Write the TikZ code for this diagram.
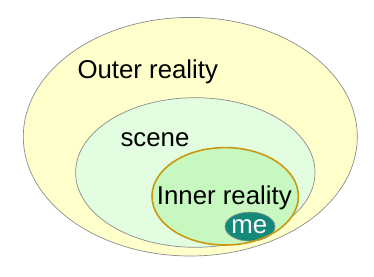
\documentclass[tikz,border=0pt]{standalone}
\usepackage{fontspec}
\setmainfont{Liberation Sans}
\usetikzlibrary{shapes.geometric}
\definecolor{outerfill}{HTML}{FFFFCC}
\definecolor{scenefill}{HTML}{E3FDE0}
\definecolor{innerfill}{HTML}{C6F8C0}
\definecolor{innerline}{HTML}{C99A10}
\definecolor{mefill}{HTML}{14897A}
\definecolor{edgegray}{HTML}{8C8C8C}
\tikzset{
  region/.style={ellipse, inner sep=0pt, draw=edgegray, line width=0.7pt},
  label/.style={inner sep=0pt, anchor=base, font=\fontsize{25.8}{28}\selectfont}
}
\begin{document}
\begin{tikzpicture}[x=1pt,y=-1pt]
\useasboundingbox (0,0) rectangle (374,276);
\node[region, fill=outerfill, minimum width=334pt, minimum height=238.6pt] (outer) at (190.3,136.7) {};
\node[region, fill=scenefill, minimum width=239.4pt, minimum height=149.6pt] (scene) at (195.3,172.5) {};
\node[ellipse, inner sep=0pt, fill=innerfill, minimum width=146.4pt, minimum height=97.4pt] (inner) at (225.2,196.3) {};
\node[region, fill=mefill, minimum width=50pt, minimum height=29pt] (me) at (250,226.6) {};
\node[ellipse, inner sep=0pt, draw=innerline, line width=1.6pt, minimum width=146.4pt, minimum height=97.4pt] (innerrim) at (225.2,196.3) {};
\node[label] (outerlabel) at (147.8,78.3) {Outer reality};
\node[label] (scenelabel) at (155,146.7) {scene};
\node[label] (innerlabel) at (224.3,204) {Inner reality};
\node[label, text=white] (melabel) at (249.2,233.3) {me};
\end{tikzpicture}
\end{document}
